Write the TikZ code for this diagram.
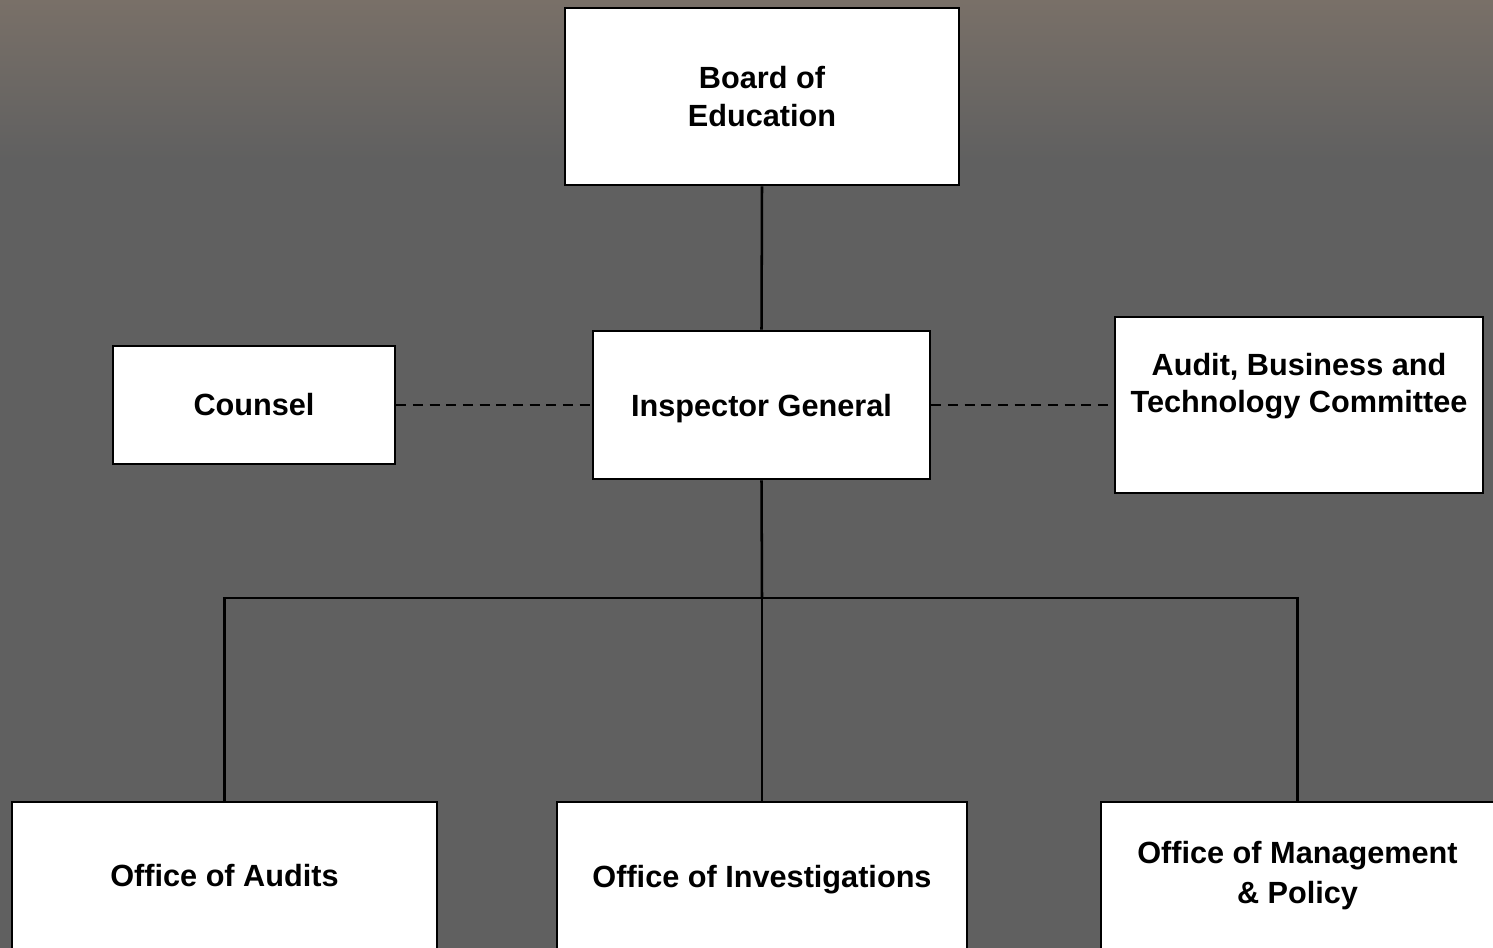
\documentclass[tikz,border=0pt]{standalone}
\usepackage{fontspec}
\setmainfont{Liberation Sans}
\definecolor{bgtop}{RGB}{121,112,104}
\definecolor{bgmain}{RGB}{96,96,96}
\tikzset{
  box/.style={draw=black, fill=white, line width=1.9pt, inner sep=0pt, align=center,
    font=\bfseries\fontsize{23}{28}\selectfont},
  boxtext/.style={inner sep=0pt, align=center, font=\bfseries\fontsize{23}{28}\selectfont},
  conn/.style={draw=black, line width=1.9pt},
  dashconn/.style={draw=black, line width=2pt, dash pattern=on 7.5pt off 5pt}
}
\begin{document}
\begin{tikzpicture}[x=0.75pt,y=-0.75pt]
\clip (0,0) rectangle (1493,948);
\fill[bgmain] (0,0) rectangle (1493,948);
\shade[top color=bgtop, bottom color=bgmain] (0,0) rectangle (1493,160);

% boxes
\node[box, minimum width=394*0.75pt, minimum height=177*0.75pt] (board) at (762,96.5) {Board of\\Education};
\node[box, minimum width=337*0.75pt, minimum height=148*0.75pt, text depth=0pt] (ig) at (761.5,405) {Inspector General};
\node[box, minimum width=282*0.75pt, minimum height=118*0.75pt] (counsel) at (254,405) {Counsel};
\node[box, minimum width=368*0.75pt, minimum height=176*0.75pt] (abt) at (1299,405) {};
\node[boxtext] (abttext) at (1299,386) {Audit, Business and\\Technology Committee};
\node[box, minimum width=425*0.75pt, minimum height=148*0.75pt] (audits) at (224.5,876) {Office of Audits};
\node[box, minimum width=410*0.75pt, minimum height=148*0.75pt, text depth=0pt] (inv) at (762,876) {Office of Investigations};
\node[box, minimum width=393*0.75pt, minimum height=148*0.75pt, font=\bfseries\fontsize{23}{30}\selectfont] (mgmt) at (1297.5,876) {Office of Management\\\& Policy};

% connectors
\coordinate (bus) at (762,598);
\draw[conn] (board.south) -- (ig.north);
\draw[conn] (ig.south) -- (bus);
\draw[conn] (bus) -- (inv.north);
\draw[conn] (audits.north) |- (bus);
\draw[conn] (mgmt.north) |- (bus);
\draw[dashconn] (counsel.east) -- (ig.west);
\draw[dashconn] (ig.east) -- (abt.west);
\end{tikzpicture}
\end{document}
